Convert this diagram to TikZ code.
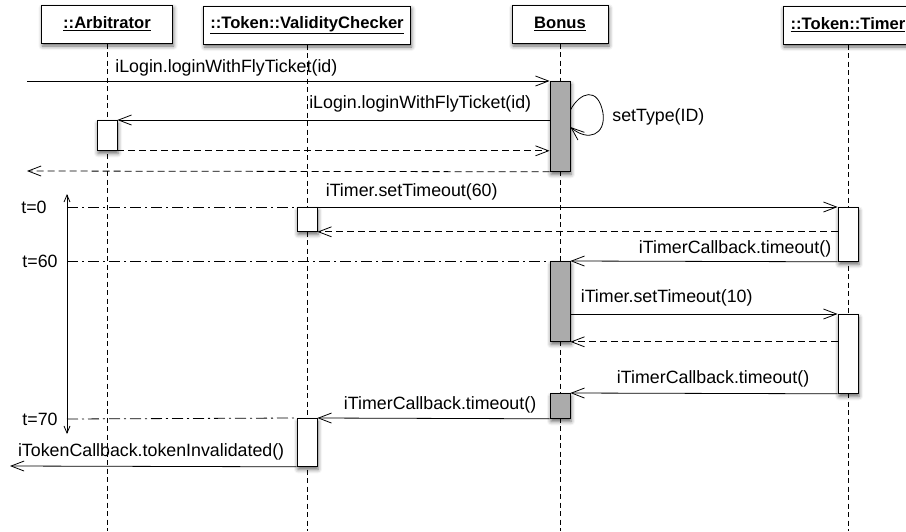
\documentclass[tikz,border=0pt]{standalone}
\usepackage{fontspec}
\setmainfont{Liberation Sans}
\usetikzlibrary{positioning,arrows.meta,shadows.blur}
\definecolor{ActGray}{HTML}{ABABAB}

\begin{document}
\begin{tikzpicture}[x=1pt,y=-1pt,line width=.8pt,>={Straight Barb[length=13pt,width=10pt]},
  every node/.style={font=\fontsize{17.8}{21}\selectfont,inner sep=0pt},
  shade/.style={blur shadow={shadow xshift=1pt,shadow yshift=-3pt,shadow blur radius=4pt,shadow opacity=60}},
  head/.style={draw,line width=1pt,fill=white,minimum height=38pt,shade,font=\fontsize{16.6}{19}\selectfont\bfseries},
  act/.style={draw,fill=white,minimum width=20pt,anchor=north,shade},
  busy/.style={act,fill=ActGray},
  life/.style={dash pattern=on 5pt off 3.5pt},
  reply/.style={->,dash pattern=on 7pt off 4pt},
  tick/.style={dash pattern=on 11pt off 4pt on 2pt off 4pt},
  clock/.style={{Straight Barb[length=7pt,width=6pt]}-{Straight Barb[length=7pt,width=6pt]}}]
\clip (0,0) rectangle (906,531);
\node[head,minimum width=131pt] (arb) at (107,24) {\underline{::Arbitrator}};
\node[head,minimum width=207pt] (chk) at (307,25) {\underline{::Token::ValidityChecker}};
\node[head,minimum width=96pt] (bon) at (560,24) {\underline{Bonus}};
\node[head,minimum width=130pt] (tim) at (848,25) {\underline{::Token::Timer}};
\coordinate (bot) at (0,531);
\foreach \n in {arb,chk,bon,tim} \draw[life] (\n.south) -- (\n.south |- bot);

\node[busy,minimum height=90pt] (bonA) at (560,81) {};
\node[act,minimum height=30pt] (arbA) at (107,120) {};
\node[act,minimum height=24pt] (chkA) at (307,207) {};
\node[act,minimum height=54pt] (timA) at (848,207) {};
\node[busy,minimum height=80pt] (bonB) at (560,261) {};
\node[act,minimum height=79pt] (timB) at (848,314) {};
\node[busy,minimum height=25pt] (bonC) at (560,393) {};
\node[act,minimum height=48pt] (chkB) at (307,418) {};

\coordinate (in1) at (27,81);
\coordinate (out1) at (27,171);
\coordinate (out2) at (10,466);
\coordinate (ttop) at (67,194);
\coordinate (tbot) at (67,434);

\draw[->] (in1) -- (bonA.north west) node[pos=0,anchor=west,xshift=88pt,yshift=13pt] {iLogin.loginWithFlyTicket(id)};
\draw[->] (bonA.west |- arbA.north) -- (arbA.north east) node[pos=0,anchor=east,xshift=-18pt,yshift=16pt] {iLogin.loginWithFlyTicket(id)};
\draw[->] ([yshift=-29pt]bonA.north east) .. controls (580,92) and (598,86) .. (603,113) node[anchor=west,xshift=9pt,yshift=-4pt] {setType(ID)}
  .. controls (606,135) and (588,142) .. ([yshift=-46pt]bonA.north east);
\draw[reply] (arbA.south east) -- (bonA.west |- arbA.south);
\draw[reply] (bonA.south west) -- (out1);

\draw[clock] (ttop) -- (tbot);
\node[anchor=east] (t0) at (47,207) {t=0};
\node[anchor=east] (t60) at (58,261) {t=60};
\node[anchor=east] (t70) at (58,419) {t=70};
\draw[tick] (t0.east -| ttop) -- (chkA.north west);
\draw[tick] (t60.east -| ttop) -- (bonB.north west);
\draw[tick] (t70.east -| ttop) -- (chkB.north west);

\draw[->] (chkA.north east) -- (timA.north west) node[pos=0,anchor=west,xshift=8pt,yshift=15pt] {iTimer.setTimeout(60)};
\draw[reply] (timA.west |- chkA.south) -- (chkA.south east);
\draw[->] (timA.south west) -- (bonB.north east) node[pos=0,anchor=east,xshift=-6pt,yshift=13pt] {iTimerCallback.timeout()};
\draw[->] (bonB.east |- timB.north) -- (timB.north west) node[pos=0,anchor=west,xshift=10pt,yshift=16pt] {iTimer.setTimeout(10)};
\draw[reply] (timB.west |- bonB.south) -- (bonB.south east);
\draw[->] (timB.south west) -- (bonC.north east) node[pos=0,anchor=east,xshift=-28pt,yshift=15pt] {iTimerCallback.timeout()};
\draw[->] (bonC.south west) -- (chkB.north east) node[pos=0,anchor=east,xshift=-13pt,yshift=14pt] {iTimerCallback.timeout()};
\draw[->] (chkB.south west) -- (out2) node[pos=0,anchor=east,xshift=-12pt,yshift=15pt] {iTokenCallback.tokenInvalidated()};
\end{tikzpicture}
\end{document}
